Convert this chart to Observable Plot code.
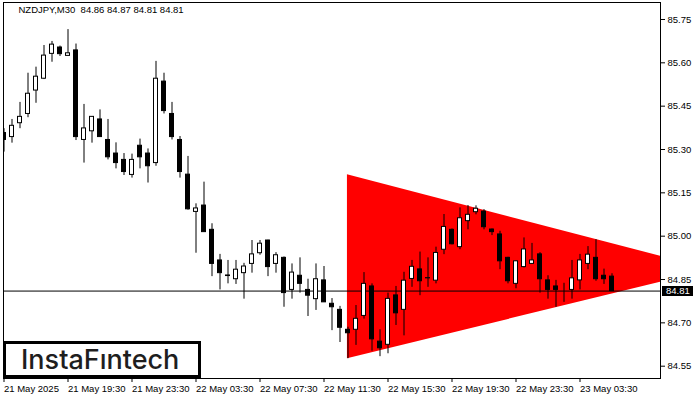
<!DOCTYPE html>
<html><head><meta charset="utf-8">
<script src="https://cdn.jsdelivr.net/npm/d3@7"></script>
<script src="https://cdn.jsdelivr.net/npm/@observablehq/plot@0.6"></script>
<style>
body{margin:0;background:#fff;}
#wrap{position:relative;width:700px;height:400px;overflow:hidden;}
#logo{position:absolute;left:3px;top:341px;width:198px;height:37px;box-sizing:border-box;border:3px solid #000;background:#fff;font-family:Inter;font-weight:500;font-size:27px;color:#1e1e1e;line-height:31px;padding-left:15px;white-space:nowrap;}
</style></head>
<body><div id="wrap"><div id="plot"></div><div id="logo">InstaFıntech</div></div>
<script>
const titleText = "NZDJPY,M30  84.86 84.87 84.81 84.81";
const lastPrice = 84.81;

const open  = [85.357,85.343,85.391,85.423,85.504,85.545,85.631,85.653,85.624,85.643,
               85.333,85.363,85.404,85.333,85.286,85.264,85.212,85.313,85.286,85.253,
               85.535,85.423,85.333,85.213,85.084,85.106,85.022,84.916,84.864,84.851,
               84.872,84.904,84.941,84.985,84.904,84.925,84.814,84.863,84.814,84.782,
               84.847,84.766,84.745,84.676,84.676,84.724,84.826,84.635,84.624,84.795,
               84.745,84.852,84.885,84.854,84.846,84.953,85.022,84.962,85.052,85.083,
               85.085,85.023,85.006,84.925,84.835,84.893,84.904,84.937,84.847,84.826,
               84.804,84.814,84.847,84.904,84.925,84.863,84.86];
const high  = [85.372,85.404,85.463,85.564,85.585,85.660,85.674,85.658,85.715,85.665,
               85.456,85.414,85.437,85.404,85.323,85.286,85.284,85.336,85.302,85.605,
               85.564,85.463,85.345,85.276,85.112,85.187,85.043,84.937,84.916,84.916,
               84.906,84.985,84.985,84.986,84.943,84.928,84.904,84.925,84.851,84.904,
               84.895,84.784,84.757,84.685,84.760,84.874,84.835,84.676,84.803,84.826,
               84.875,84.916,84.945,84.925,84.962,85.075,85.025,85.098,85.106,85.105,
               85.092,85.025,85.017,84.927,84.915,84.994,84.975,84.943,84.863,84.847,
               84.837,84.916,84.937,84.964,84.988,84.886,84.87];
const low   = [85.291,85.322,85.372,85.410,85.460,85.542,85.602,85.622,85.624,85.331,
               85.253,85.322,85.343,85.264,85.233,85.210,85.201,85.233,85.184,85.242,
               85.423,85.333,85.201,85.090,84.941,85.014,84.860,84.814,84.835,84.833,
               84.782,84.872,84.934,84.860,84.872,84.754,84.782,84.803,84.722,84.743,
               84.771,84.673,84.632,84.576,84.622,84.713,84.602,84.583,84.593,84.691,
               84.655,84.823,84.794,84.823,84.835,84.936,84.970,84.953,85.022,85.074,
               85.022,85.002,84.884,84.835,84.818,84.890,84.902,84.803,84.782,84.754,
               84.771,84.782,84.814,84.884,84.844,84.833,84.81];
const close = [85.333,85.382,85.413,85.493,85.552,85.625,85.663,85.630,85.633,85.343,
               85.373,85.413,85.343,85.273,85.253,85.222,85.264,85.273,85.242,85.545,
               85.433,85.343,85.222,85.093,85.096,85.014,84.904,84.872,84.862,84.884,
               84.895,84.937,84.974,84.893,84.934,84.803,84.874,84.835,84.794,84.851,
               84.771,84.754,84.683,84.664,84.714,84.835,84.643,84.612,84.783,84.733,
               84.846,84.894,84.844,84.855,84.942,85.032,84.972,85.062,85.074,85.095,
               85.031,85.014,84.913,84.844,84.913,84.954,84.916,84.851,84.814,84.814,
               84.804,84.854,84.916,84.936,84.851,84.851,84.81];

const xTickIdx = [0,8,16,24,32,40,48,56,64,72];
const xTickLabels = ["21 May 2025","21 May 19:30","21 May 23:30","22 May 03:30","22 May 07:30",
                     "22 May 11:30","22 May 15:30","22 May 19:30","22 May 23:30","23 May 03:30"];
const yTicks = [85.75,85.60,85.45,85.30,85.15,85.00,84.85,84.70,84.55];

// symmetric triangle pattern (bar index, upper, lower)
const triIdx = [42.93, 88.5];
const triUpper = [85.213, 84.884];
const triLower = [84.576, 84.884];

const candles = open.map((o, i) => ({i, o, h: high[i], l: low[i], c: close[i], up: close[i] >= o}));
const tri = triIdx.map((x, k) => ({x, y1: triLower[k], y2: triUpper[k]}));

const priceLabel = (index, scales, values, dimensions) => {
  const ns = "http://www.w3.org/2000/svg";
  const g = document.createElementNS(ns, "g");
  const y = Math.round(scales.y(lastPrice));
  const x0 = dimensions.width - dimensions.marginRight + 2;
  const r = document.createElementNS(ns, "rect");
  r.setAttribute("x", x0); r.setAttribute("y", y - 5);
  r.setAttribute("width", 31); r.setAttribute("height", 10);
  r.setAttribute("fill", "#000");
  g.appendChild(r);
  const t = document.createElementNS(ns, "text");
  t.setAttribute("x", x0 + 4); t.setAttribute("y", y);
  t.setAttribute("dy", "0.35em");
  t.setAttribute("text-anchor", "start");
  t.setAttribute("fill", "#fff");
  t.setAttribute("font-size", "9.5px");
  t.textContent = lastPrice.toFixed(2);
  g.appendChild(t);
  return g;
};

const chart = Plot.plot({
  width: 700, height: 400,
  marginLeft: 3, marginRight: 40, marginTop: 2, marginBottom: 22,
  style: {fontFamily: "Liberation Sans", fontSize: "9.5px", color: "#000", background: "#fff"},
  x: {type: "linear", domain: [-0.0625, 82.0625]},
  y: {domain: [84.5074, 85.8088]},
  marks: [
    Plot.areaY(tri, {x: "x", y1: "y1", y2: "y2", fill: "#ff0000", curve: "linear", clip: true}),
    Plot.ruleY([lastPrice], {stroke: "#000", strokeWidth: 1}),
    Plot.ruleX(candles, {x: "i", y1: "l", y2: "h", stroke: "#000", strokeWidth: 1, clip: true}),
    Plot.rect(candles, {x1: d => d.i - 0.25, x2: d => d.i + 0.25, y1: "o", y2: "c",
      fill: d => d.up ? "#fff" : "#000", stroke: "#000", strokeWidth: 1, clip: true}),
    Plot.frame({stroke: "#000"}),
    Plot.axisY(yTicks, {anchor: "right", tickSize: 4, tickPadding: 3, tickFormat: d => d.toFixed(2)}),
    Plot.axisX(xTickIdx, {anchor: "bottom", tickSize: 4, tickPadding: 3, textAnchor: "start", dx: 0,
      tickFormat: d => xTickLabels[xTickIdx.indexOf(d)]}),
    Plot.text([titleText], {frameAnchor: "top-left", dx: 15, dy: 4, textAnchor: "start", lineAnchor: "top", fill: "#000"}),
    priceLabel
  ]
});
document.getElementById("plot").appendChild(chart);
</script>
</body></html>
